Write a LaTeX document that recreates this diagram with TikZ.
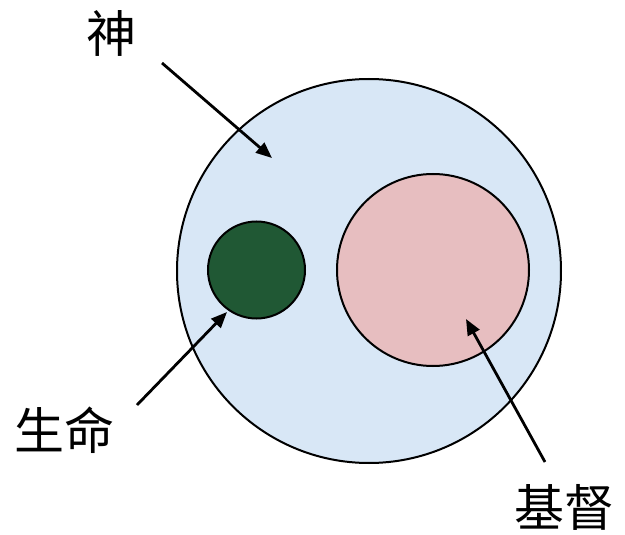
\documentclass[tikz,border=0pt]{standalone}
\usepackage{fontspec}
\newfontfamily\cjk{Noto Sans CJK SC}
\usetikzlibrary{arrows.meta}
\definecolor{godblue}{RGB}{216,231,246}
\definecolor{christpink}{RGB}{231,190,192}
\definecolor{lifegreen}{RGB}{32,88,52}
\tikzset{
  ring/.style={circle, draw=black, line width=2pt, inner sep=0pt},
  lbl/.style={font=\cjk\fontsize{50}{54}\selectfont, inner sep=0pt},
  pointer/.style={line width=2.8pt, -{Triangle[length=16pt,width=13pt]}}
}
\begin{document}
\begin{tikzpicture}[x=1pt,y=-1pt]
\useasboundingbox (0,0) rectangle (625,535);
\node[ring, fill=godblue, minimum size=384pt] (god) at (369,271) {};
\node[ring, fill=christpink, minimum size=192pt] (christ) at (433,270) {};
\node[ring, fill=lifegreen, minimum size=97pt] (life) at (256.5,270) {};
\node[lbl] (godlbl) at (111,33) {神};
\node[lbl] (lifelbl) at (65,430) {生命};
\node[lbl] (christlbl) at (564,507) {基督};
\coordinate (a1s) at (162,63);
\coordinate (a1e) at (272,158);
\coordinate (a2s) at (137,405);
\coordinate (a2e) at (227,312);
\coordinate (a3s) at (545,462);
\coordinate (a3e) at (466,319);
\draw[pointer] (a1s) -- (a1e);
\draw[pointer] (a2s) -- (a2e);
\draw[pointer] (a3s) -- (a3e);
\end{tikzpicture}
\end{document}
